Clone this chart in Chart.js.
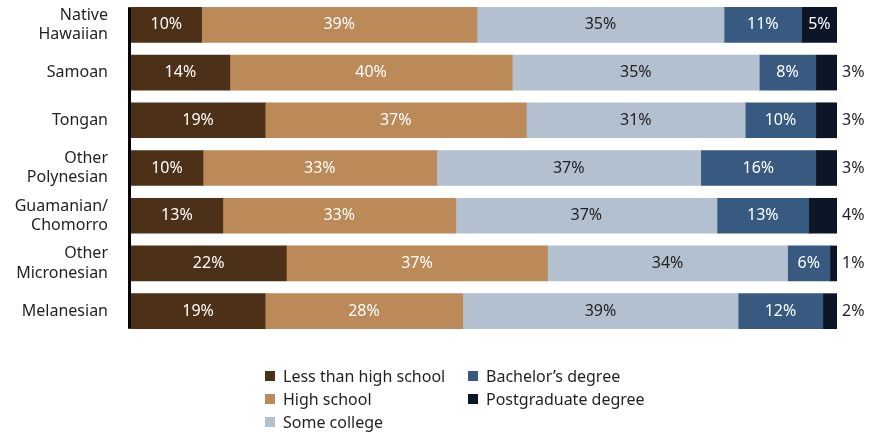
<!DOCTYPE html>
<html>
<head>
<meta charset="utf-8">
<script src="https://cdn.jsdelivr.net/npm/chart.js@4.4.0/dist/chart.umd.min.js"></script>
<style>
  body { margin: 0; background: #fff; }
  #wrap { position: relative; width: 870px; height: 437px; }
  #legend {
    position: absolute; left: 265px; top: 364px;
    display: grid; grid-template-columns: 203px auto;
    grid-template-rows: repeat(3, 23px); grid-auto-flow: column;
    font: 16px 'Noto Sans'; color: #231f20;
  }
  #legend div { display: flex; align-items: center; white-space: nowrap; }
  #legend span { display: inline-block; width: 10px; height: 10px; margin-right: 8px; }
</style>
</head>
<body>
<div id="wrap">
  <canvas id="chart" width="870" height="437"></canvas>
  <div id="legend"></div>
</div>
<script>
  'use strict';

  // categories (multi-line labels as arrays)
  var groups = [['Native', 'Hawaiian'], 'Samoan', 'Tongan', ['Other', 'Polynesian'],
                ['Guamanian/', 'Chomorro'], ['Other', 'Micronesian'], 'Melanesian'];

  // percent of each group, by education level
  var lessThanHS  = [10, 14, 19, 10.2, 13, 22, 19];
  var highSchool  = [39, 40, 37, 33.1, 33, 37, 28];
  var someCollege = [35, 35, 31, 37.4, 37, 34, 39];
  var bachelors   = [11,  8, 10, 16.3, 13,  6, 12];
  var postgrad    = [ 5,  3,  3,  3,    4,  1,  2];

  var seriesNames = ['Less than high school', 'High school', 'Some college',
                     'Bachelor\u2019s degree', 'Postgraduate degree'];
  var seriesColors = ['#4d3018', '#bb8a58', '#b2c0d0', '#385a80', '#0c1627'];
  var labelColors  = ['#ffffff', '#ffffff', '#231f20', '#ffffff', '#ffffff'];

  Chart.defaults.font.family = "'Noto Sans', sans-serif";
  Chart.defaults.color = '#231f20';

  var allSeries = [lessThanHS, highSchool, someCollege, bachelors, postgrad];

  // value labels inside the segments (small last segments go outside, right)
  var segmentLabels = {
    id: 'segmentLabels',
    afterDatasetsDraw: function (chart) {
      var ctx = chart.ctx;
      ctx.save();
      ctx.font = "16px 'Noto Sans'";
      ctx.textBaseline = 'middle';
      chart.data.datasets.forEach(function (ds, di) {
        var meta = chart.getDatasetMeta(di);
        meta.data.forEach(function (bar, i) {
          var v = ds.data[i];
          var txt = Math.round(v) + '%';
          if (di === 4 && v < 5) {
            ctx.fillStyle = '#231f20';
            ctx.textAlign = 'left';
            ctx.fillText(txt, chart.chartArea.right + 5, bar.y);
          } else {
            ctx.fillStyle = labelColors[di];
            ctx.textAlign = 'center';
            ctx.fillText(txt, (bar.x + bar.base) / 2, bar.y);
          }
        });
      });
      ctx.restore();
    }
  };

  // black axis line that spans only the bars
  var axisLine = {
    id: 'axisLine',
    afterDatasetsDraw: function (chart) {
      var els = chart.getDatasetMeta(0).data;
      var first = els[0], last = els[els.length - 1];
      var ctx = chart.ctx;
      ctx.save();
      ctx.strokeStyle = '#000';
      ctx.lineWidth = 3;
      ctx.beginPath();
      ctx.moveTo(chart.chartArea.left - 1.5, first.y - first.height / 2);
      ctx.lineTo(chart.chartArea.left - 1.5, last.y + last.height / 2);
      ctx.stroke();
      ctx.restore();
    }
  };

  var datasets = allSeries.map(function (d, i) {
    return {
      label: seriesNames[i],
      data: d,
      backgroundColor: seriesColors[i],
      borderWidth: 0,
      barThickness: 35
    };
  });

  new Chart(document.getElementById('chart'), {
    type: 'bar',
    data: { labels: groups, datasets: datasets },
    options: {
      responsive: false,
      animation: false,
      indexAxis: 'y',
      layout: { padding: { top: 1, bottom: 102, right: 33, left: 0 } },
      plugins: { legend: { display: false }, tooltip: { enabled: false } },
      scales: {
        x: { stacked: true, min: 0, max: 100, display: false },
        y: {
          stacked: true,
          grid: { display: false, drawTicks: false },
          border: { display: false },
          ticks: { padding: 23, font: { size: 16, lineHeight: 1.2 }, color: '#231f20' },
          afterFit: function (scale) {
            scale.width = 131;
            scale.paddingTop = 0;
            scale.paddingBottom = 0;
          }
        }
      }
    },
    plugins: [segmentLabels, axisLine]
  });

  // legend, two columns filled top to bottom
  var legendEl = document.getElementById('legend');
  seriesNames.forEach(function (name, i) {
    var item = document.createElement('div');
    item.innerHTML = '<span style="background:' + seriesColors[i] + '"></span>' + name;
    legendEl.appendChild(item);
  });
</script>
</body>
</html>
